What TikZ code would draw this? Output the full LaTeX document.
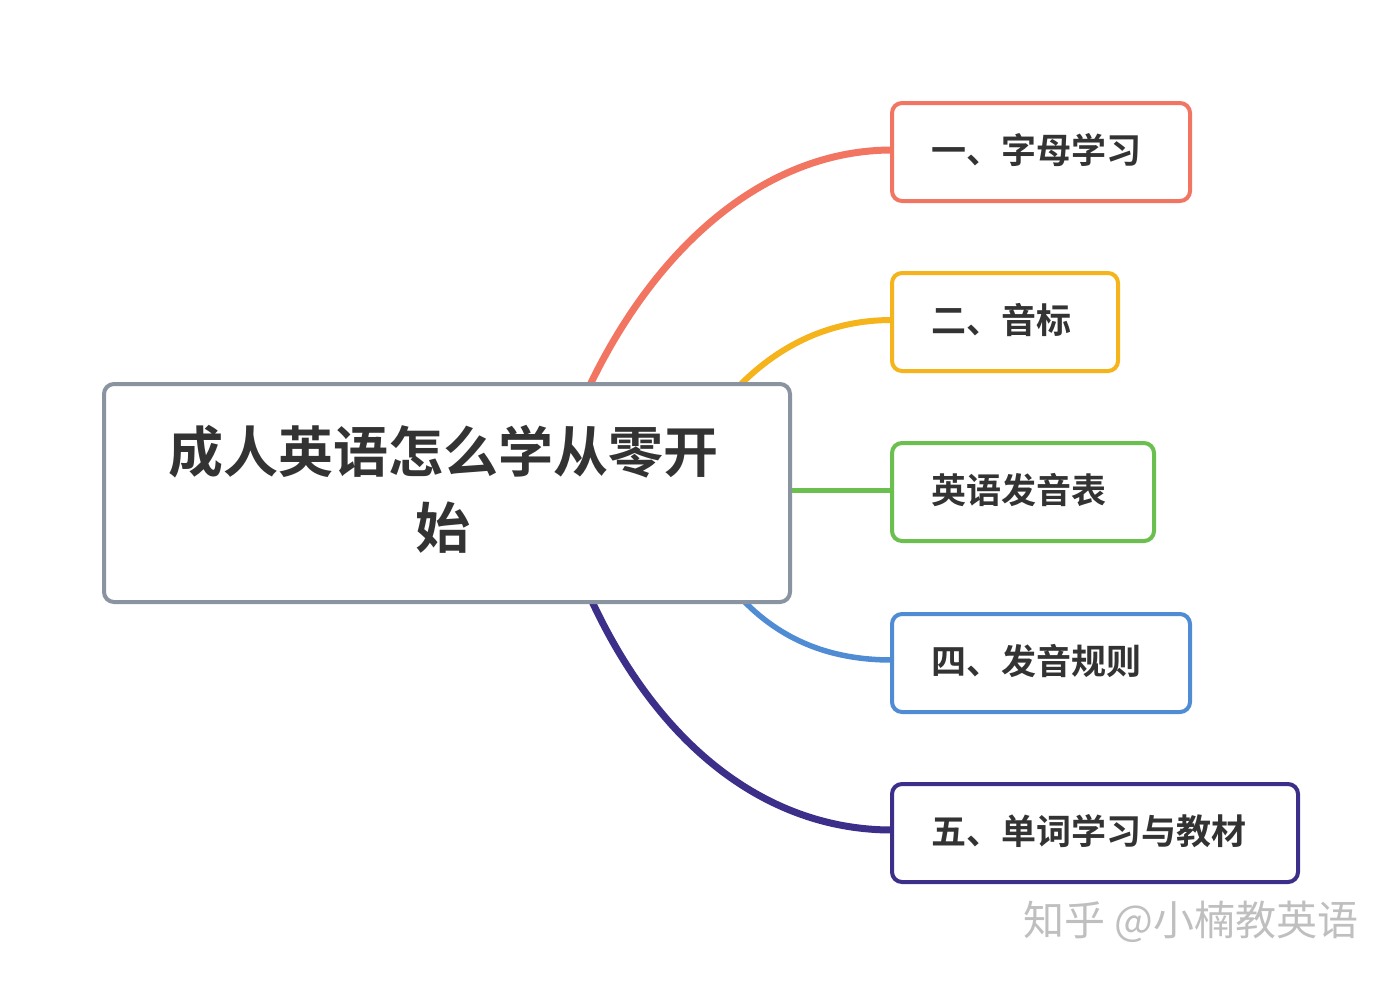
\documentclass[tikz,border=0pt]{standalone}
\usepackage{fontspec}
\setmainfont{Noto Sans CJK SC}[BoldFont={* Bold}]
\begin{document}
\begin{tikzpicture}[x=1pt,y=-1pt,
  box/.style={draw,line width=4pt,rounded corners=10pt,anchor=north west,inner sep=0pt,align=left,text=black!80},
  br/.style={line width=5pt}]
\definecolor{c1}{HTML}{F27562}\definecolor{c2}{HTML}{F5B31C}\definecolor{c3}{HTML}{6BBF4E}
\definecolor{c4}{HTML}{4F8CD4}\definecolor{c5}{HTML}{3B2F8A}\definecolor{cg}{HTML}{8A93A0}
\useasboundingbox (0,0) rectangle (1396,980);
\coordinate (s1) at (590,385);\coordinate (s2) at (740,385);\coordinate (s3) at (786,490);
\coordinate (s4) at (740,597);\coordinate (s5) at (590,597);
\draw[br,c1,line width=7pt] (s1) .. controls (660,240) and (770,150) .. (892,150);
\draw[br,c2,line width=6pt] (s2) .. controls (780,345) and (830,320) .. (892,320);
\draw[br,c3] (s3) -- (892,490);
\draw[br,c4,line width=5.5pt] (s4) .. controls (780,640) and (830,660) .. (892,660);
\draw[br,c5,line width=7pt] (s5) .. controls (660,750) and (770,830) .. (892,830);
\node[box,draw=cg,fill=white,minimum width=686pt,minimum height=218pt] (c) at (102,382) {};
\node[font=\bfseries\fontsize{55}{76}\selectfont,align=center,text=black!80] at (443,489) {成人英语怎么学从零开\\始};
\foreach \n/\y/\w/\t/\c in {1/101/298/一、字母学习/c1,2/271/226/二、音标/c2,3/441/262/英语发音表/c3,4/612/298/四、发音规则/c4,5/782/406/五、单词学习与教材/c5}{
  \node[box,draw=\c,fill=white,minimum width=\w pt,minimum height=98pt] (b\n) at (890,\y) {};
  \node[anchor=west,font=\bfseries\fontsize{35}{40}\selectfont,text=black!80] at (928,\y+49) {\t};
}
\node[anchor=east,font=\fontsize{41}{44}\selectfont,text=black!25] (wm) at (1362,922) {知乎 @小楠教英语};
\end{tikzpicture}
\end{document}
